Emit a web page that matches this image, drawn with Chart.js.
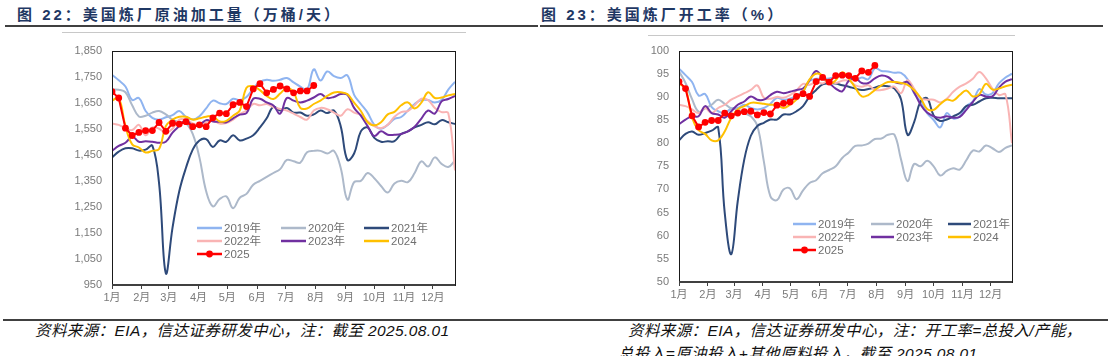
<!DOCTYPE html>
<html>
<head>
<meta charset="utf-8">
<script src="https://cdn.jsdelivr.net/npm/chart.js@4.4.1/dist/chart.umd.min.js"></script>
<style>
  html, body { margin: 0; padding: 0; background: #fff; }
  body { width: 1108px; height: 356px; position: relative; overflow: hidden; }
  .title { position: absolute; top: 6px; font: bold 15px 'Liberation Sans','Noto Sans CJK SC',sans-serif; color: #1f3864; letter-spacing: 3px; line-height: 17px; white-space: nowrap; }
  .hline { position: absolute; }
  .foot { position: absolute; font: italic 15.5px 'Liberation Sans','Noto Sans CJK SC',sans-serif; color: #111; line-height: 18px; letter-spacing: 0.4px; white-space: nowrap; }
  canvas { position: absolute; }
</style>
</head>
<body>
<div class="title" style="left:17px;">图 22：美国炼厂原油加工量（万桶/天）</div>
<div class="title" style="left:541px;">图 23：美国炼厂开工率（%）</div>
<div class="hline" style="left:5px; top:25px; width:533px; height:2px; background:#404040;"></div>
<div class="hline" style="left:540px; top:25px; width:563px; height:2px; background:#404040;"></div>
<div class="hline" style="left:62px; top:32px; width:404px; height:1px; background:#c8c8c8;"></div>
<div class="hline" style="left:648px; top:35px; width:367px; height:1px; background:#c8c8c8;"></div>
<div class="hline" style="left:3px; top:319px; width:1105px; height:2px; background:#404040;"></div>
<div class="foot" style="left:35px; top:322px;">资料来源：EIA，信达证券研发中心，注：截至 2025.08.01</div>
<div class="foot" style="left:628px; top:322px;">资料来源：EIA，信达证券研发中心，注：开工率=总投入/产能，</div>
<div class="foot" style="left:618px; top:345px;">总投入=原油投入+其他原料投入，截至 2025.08.01</div>

<canvas id="c1" width="405" height="275" style="left:60px; top:34px;"></canvas>
<canvas id="c2" width="390" height="272" style="left:630px; top:34px;"></canvas>

<script>
// ---------- categories / tick labels ----------
const monthLabels = ['1月','2月','3月','4月','5月','6月','7月','8月','9月','10月','11月','12月'];
const monthStartDays = [0,31,59,90,120,151,181,212,243,273,304,334];
const seriesNames = ['2019年','2020年','2021年','2022年','2023年','2024','2025'];

// ---------- 美国炼厂原油加工量（万桶/天），weekly ----------
const thr2019 = [1757,1736,1712,1660,1668,1618,1592,1585,1594,1602,1618,1596,1585,1598,1628,1658,1648,1645,1665,1660,1672,1705,1730,1738,1734,1738,1745,1728,1712,1700,1778,1735,1770,1752,1745,1755,1680,1645,1612,1565,1550,1565,1588,1595,1620,1645,1660,1660,1651,1660,1700,1730];
const thr2020 = [1701,1700,1690,1640,1597,1600,1612,1618,1605,1585,1575,1570,1530,1440,1310,1252,1280,1290,1245,1285,1300,1335,1350,1365,1380,1395,1430,1425,1420,1460,1465,1465,1455,1465,1400,1278,1345,1350,1380,1360,1330,1305,1340,1350,1345,1380,1425,1405,1440,1415,1403,1428];
const thr2021 = [1440,1462,1475,1475,1466,1470,1485,1340,995,1170,1310,1400,1470,1505,1510,1480,1505,1500,1525,1505,1512,1525,1555,1590,1635,1620,1630,1612,1612,1600,1605,1620,1610,1620,1560,1430,1455,1540,1555,1515,1500,1502,1502,1530,1540,1555,1565,1575,1567,1583,1575,1568];
const thr2022 = [1570,1565,1552,1545,1565,1525,1555,1550,1535,1550,1585,1585,1570,1565,1575,1582,1570,1572,1585,1606,1620,1645,1640,1645,1633,1626,1620,1608,1595,1585,1620,1630,1625,1612,1600,1625,1612,1603,1580,1560,1552,1565,1596,1614,1618,1640,1665,1660,1630,1614,1610,1390];
const thr2023 = [1465,1484,1496,1520,1500,1502,1500,1496,1500,1535,1560,1583,1560,1565,1583,1578,1577,1575,1590,1604,1610,1665,1665,1651,1639,1608,1668,1658,1651,1658,1670,1683,1668,1672,1683,1680,1630,1600,1560,1522,1540,1527,1527,1530,1540,1558,1589,1620,1608,1655,1664,1676];
const thr2024 = [1658,1668,1560,1490,1478,1459,1465,1472,1560,1585,1596,1596,1585,1590,1596,1598,1578,1580,1600,1620,1707,1713,1698,1676,1664,1685,1706,1690,1630,1628,1645,1658,1676,1689,1690,1683,1650,1618,1575,1563,1575,1605,1615,1640,1651,1628,1650,1690,1668,1670,1678,1683];
const thr2025 = [1692,1668,1552,1524,1536,1543,1543,1574,1540,1571,1568,1577,1558,1565,1558,1592,1610,1608,1642,1651,1635,1703,1723,1688,1701,1714,1703,1688,1695,1695,1716];

// ---------- 美国炼厂开工率（%），weekly ----------
const util2019 = [96.1,94.7,93.2,90.3,90.6,87.8,86.9,86.5,87.5,87.6,88.3,87.6,87.3,87.6,88.5,89.8,89.4,89.6,90.3,91.2,93.4,93.9,93.9,94.0,94.3,94.6,94.5,93.6,94.2,93.8,96.2,95.6,95.5,95.2,95.2,93.8,90.8,89.0,86.5,85.0,83.4,86.5,85.3,85.8,88.0,89.0,91.7,90.5,90.8,92.9,94.2,95.0];
const util2020 = [95.5,93.0,89.5,86.8,87.5,88.3,89.4,88.5,87.5,87.3,86.5,85.8,83.7,76.0,68.5,67.7,70.0,70.2,67.9,69.8,71.4,72.0,73.5,74.2,75.0,76.8,78.0,79.4,79.5,79.9,80.9,81.0,81.8,81.8,76.5,71.8,75.5,75.0,76.2,75.0,73.0,74.0,74.6,74.3,76.3,78.4,78.2,79.5,78.9,78.1,79.0,79.5];
const util2021 = [80.6,82.0,82.5,81.8,82.2,82.7,83.4,65.0,56.0,67.5,76.5,81.6,83.7,84.4,85.1,85.1,86.2,86.2,86.9,88.0,90.1,91.5,92.7,92.9,92.9,92.5,92.2,91.8,91.5,91.7,92.0,92.4,92.3,91.8,89.5,81.8,84.5,89.0,89.7,86.0,84.8,85.1,85.8,86.5,88.0,88.3,89.0,89.7,89.8,89.7,89.7,89.7];
const util2022 = [88.3,88.0,87.3,86.5,87.6,86.5,87.6,88.3,89.4,90.1,90.8,91.5,92.5,89.8,89.6,90.0,89.8,90.4,91.4,92.8,92.6,93.2,92.9,93.6,93.0,93.5,93.5,92.5,92.2,92.5,91.5,91.5,91.8,92.2,90.8,93.6,91.8,89.7,89.4,89.4,88.8,89.6,91.1,92.2,92.9,93.9,95.4,94.0,91.8,90.4,90.5,80.0];
const util2023 = [84.1,85.1,85.8,85.8,88.0,86.5,86.2,85.5,86.9,88.3,89.0,90.1,89.4,89.4,90.4,91.1,90.8,91.1,91.5,91.8,93.6,95.6,94.2,93.0,91.8,91.2,93.5,94.0,93.0,93.0,94.0,94.6,94.3,93.2,92.9,93.2,91.0,88.3,86.6,85.8,85.5,85.8,85.5,85.7,87.2,88.9,90.4,90.1,90.1,92.0,93.3,93.8];
const util2024 = [92.8,91.8,85.5,82.8,82.0,80.6,80.6,82.5,85.5,87.3,88.0,88.7,88.7,88.5,88.3,88.3,87.6,88.3,89.4,91.1,93.8,95.0,94.6,92.8,93.6,95.3,94.0,92.0,90.1,90.4,91.5,92.5,93.2,93.2,93.0,92.6,91.5,89.8,87.4,87.2,88.4,89.4,89.2,90.4,91.4,90.1,90.6,92.8,91.6,91.8,92.3,92.6];
const util2025 = [93.3,91.8,85.9,83.5,84.5,84.9,84.9,86.5,85.9,86.5,86.8,86.9,86.1,86.6,86.3,88.2,88.6,88.9,90.1,90.7,90.1,93.3,94.2,93.2,94.6,94.7,94.6,94.0,95.6,95.3,96.8];

// ---------- styles ----------
const lineColors = ['#8fb4f0','#adb9ca','#2e4a7a','#f9b4b4','#7030a0','#ffc000','#ff0000'];
const FONT = "'Liberation Sans','Noto Sans CJK SC',sans-serif";
const TXT = '#7a7a7a';

function mkDatasets(arrs) {
  return arrs.map((arr, k) => {
    const is25 = k === 6;
    return {
      label: seriesNames[k],
      data: arr.map((v, i) => ({ x: i * 7, y: v })),
      borderColor: lineColors[k],
      backgroundColor: lineColors[k],
      borderWidth: 2,
      pointRadius: is25 ? 3.4 : 0,
      pointBackgroundColor: lineColors[k],
      pointBorderColor: lineColors[k],
      pointBorderWidth: 0,
      tension: is25 ? 0 : 0.4,
      order: 6 - k,
      fill: false
    };
  });
}

const framePlugin = {
  id: 'frame',
  afterDraw(chart) {
    const a = chart.chartArea, ctx = chart.ctx;
    ctx.save();
    ctx.strokeStyle = '#1a1a1a';
    ctx.lineWidth = 1;
    ctx.strokeRect(Math.round(a.left) + 0.5, Math.round(a.top) + 0.5, Math.round(a.right - a.left), Math.round(a.bottom - a.top));
    ctx.strokeStyle = '#404040';
    ctx.lineWidth = 2;
    ctx.beginPath();
    ctx.moveTo(a.left, Math.round(a.bottom));
    ctx.lineTo(a.right, Math.round(a.bottom));
    ctx.stroke();
    ctx.restore();
  }
};

function legendPlugin(pos) {
  return {
    id: 'inlegend',
    afterDraw(chart) {
      const ctx = chart.ctx;
      ctx.save();
      ctx.font = '11.5px ' + FONT;
      ctx.textBaseline = 'middle';
      ctx.textAlign = 'left';
      chart.data.datasets.forEach((ds, k) => {
        const col = k % 3, row = Math.floor(k / 3);
        const x = pos.cols[col], y = pos.rows[row];
        ctx.strokeStyle = ds.borderColor;
        ctx.lineWidth = 2.5;
        ctx.beginPath();
        ctx.moveTo(x, y);
        ctx.lineTo(x + pos.len, y);
        ctx.stroke();
        if (ds.pointRadius > 0) {
          ctx.fillStyle = ds.borderColor;
          ctx.beginPath();
          ctx.arc(x + pos.len / 2, y, 3.4, 0, Math.PI * 2);
          ctx.fill();
        }
        ctx.fillStyle = '#6f6f6f';
        ctx.fillText(ds.label, x + pos.len + 2, y + 0.5);
      });
      ctx.restore();
    }
  };
}

function mkChart(id, arrs, yMin, yMax, yStep, yWidth, pad, legendPos) {
  return new Chart(document.getElementById(id), {
    type: 'line',
    data: { datasets: mkDatasets(arrs) },
    options: {
      responsive: false,
      animation: false,
      devicePixelRatio: 1,
      layout: { padding: pad },
      plugins: { legend: { display: false }, tooltip: { enabled: false } },
      scales: {
        x: {
          type: 'linear',
          min: 0,
          max: 357,
          afterBuildTicks: s => { s.ticks = monthStartDays.map(v => ({ value: v })); },
          afterFit: s => { s.height = 24; },
          ticks: {
            autoSkip: false, maxRotation: 0, minRotation: 0, padding: 2,
            color: TXT, font: { family: FONT, size: 11 },
            callback: v => monthLabels[monthStartDays.indexOf(v)]
          },
          grid: { drawOnChartArea: false, tickLength: 4, color: '#404040', tickColor: '#404040', lineWidth: 1 },
          border: { display: false }
        },
        y: {
          min: yMin, max: yMax,
          afterFit: s => { s.width = yWidth; },
          ticks: { stepSize: yStep, padding: 10, color: TXT, font: { family: FONT, size: 11 } },
          grid: { display: false, drawTicks: false },
          border: { display: false }
        }
      }
    },
    plugins: [framePlugin, legendPlugin(legendPos)]
  });
}

mkChart('c1', [thr2019, thr2020, thr2021, thr2022, thr2023, thr2024, thr2025],
  950, 1850, 100, 52, { top: 9, right: 10, left: 0, bottom: 0 },
  { cols: [137, 221, 304], rows: [194, 207, 220], len: 25 });

mkChart('c2', [util2019, util2020, util2021, util2022, util2023, util2024, util2025],
  50, 100, 5, 49, { top: 11, right: 8, left: 0, bottom: 0 },
  { cols: [163, 241, 318], rows: [190, 203, 216], len: 23 });
</script>
</body>
</html>
